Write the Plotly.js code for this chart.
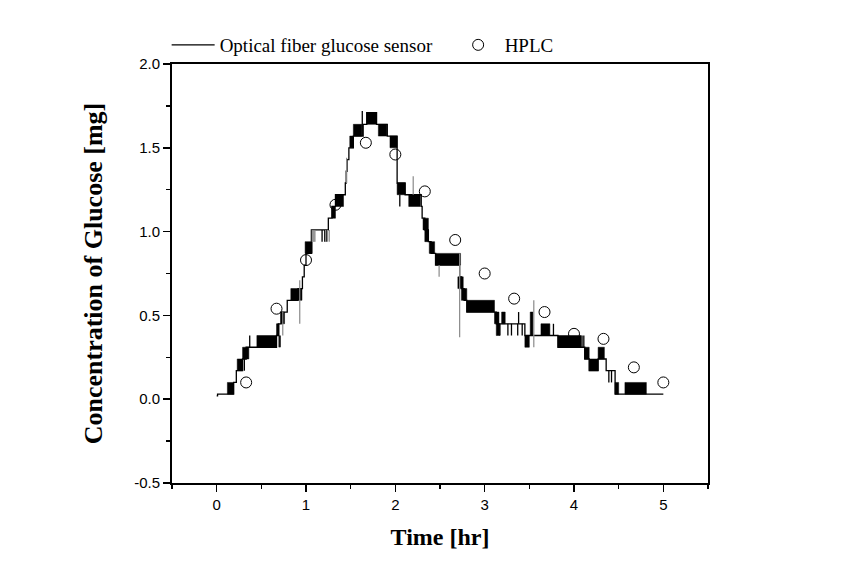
<!DOCTYPE html>
<html>
<head>
<meta charset="utf-8">
<script src="https://cdn.plot.ly/plotly-3.0.1.min.js"></script>
<style>html,body{margin:0;padding:0;background:#fff;}#chart{width:846px;height:581px;}</style>
</head>
<body>
<div id="chart"></div>
<script>
// ---- Optical fiber glucose sensor: main stepped trace (time in hr, glucose in mg)
var stepT = [0.00, 0.01, 0.19, 0.22, 0.29, 0.33, 0.67, 0.69, 0.72, 0.79, 0.91, 0.96, 0.98, 1.00, 1.06, 1.25, 1.29, 1.33, 1.44, 1.45, 1.46, 1.48, 1.53, 1.64, 1.68, 1.79, 1.91, 2.02, 2.11, 2.29, 2.30, 2.33, 2.37, 2.40, 2.45, 2.72, 2.74, 2.77, 2.80, 3.13, 3.45, 3.82, 4.08, 4.12, 4.17, 4.27, 4.36, 4.46, 5.00];
var stepV = [0.02, 0.03, 0.10, 0.17, 0.24, 0.31, 0.38, 0.45, 0.52, 0.59, 0.66, 0.73, 0.80, 0.87, 1.01, 1.08, 1.15, 1.22, 1.29, 1.36, 1.43, 1.50, 1.57, 1.64, 1.71, 1.64, 1.57, 1.29, 1.22, 1.15, 1.08, 1.01, 0.94, 0.87, 0.80, 0.73, 0.66, 0.59, 0.52, 0.45, 0.38, 0.31, 0.31, 0.24, 0.17, 0.24, 0.17, 0.03, 0.03];

// ---- intervals where the sensor toggles rapidly between two adjacent levels
var bandStart = [0.12, 0.23, 0.29, 0.45, 0.67, 0.72, 0.83, 0.99, 1.29, 1.33, 1.49, 1.53, 1.68, 1.81, 1.94, 2.02, 2.15, 2.31, 2.33, 2.38, 2.455, 2.70, 2.74, 2.80, 3.11, 3.13, 3.19, 3.45, 3.51, 3.63, 3.82, 4.12, 4.17, 4.27, 4.46, 4.57];
var bandEnd   = [0.19, 0.29, 0.36, 0.67, 0.70, 0.76, 0.955, 1.07, 1.33, 1.42, 1.53, 1.625, 1.785, 1.905, 2.02, 2.11, 2.28, 2.37, 2.37, 2.44, 2.73, 2.76, 2.80, 3.11, 3.16, 3.17, 3.23, 3.50, 3.54, 3.73, 4.08, 4.17, 4.27, 4.34, 4.50, 4.81];
var bandLow   = [0.03, 0.17, 0.24, 0.31, 0.38, 0.45, 0.59, 0.87, 1.08, 1.15, 1.50, 1.57, 1.64, 1.57, 1.50, 1.22, 1.15, 1.01, 0.94, 0.87, 0.80, 0.66, 0.59, 0.52, 0.45, 0.38, 0.45, 0.31, 0.38, 0.38, 0.31, 0.24, 0.17, 0.24, 0.03, 0.03];
var bandHigh  = [0.10, 0.24, 0.31, 0.38, 0.45, 0.52, 0.66, 0.94, 1.15, 1.22, 1.57, 1.64, 1.71, 1.64, 1.57, 1.29, 1.22, 1.08, 1.01, 0.94, 0.87, 0.73, 0.66, 0.59, 0.52, 0.45, 0.52, 0.38, 0.52, 0.45, 0.38, 0.31, 0.24, 0.31, 0.10, 0.10];

// ---- single-sample jumps (black)
var jumpT    = [0.31, 0.37, 0.70, 0.71, 1.18, 1.21, 1.23, 1.63, 2.05, 3.17, 3.26, 3.30, 3.37, 3.38, 3.42, 3.77, 4.09, 4.11, 4.39, 4.42];
var jumpLow  = [0.17, 0.31, 0.31, 0.31, 0.94, 0.94, 0.94, 1.57, 1.15, 0.38, 0.38, 0.38, 0.38, 0.45, 0.38, 0.38, 0.31, 0.31, 0.10, 0.10];
var jumpHigh = [0.24, 0.38, 0.38, 0.38, 1.01, 1.01, 1.01, 1.72, 1.22, 0.45, 0.45, 0.45, 0.45, 0.52, 0.45, 0.45, 0.38, 0.38, 0.17, 0.17];

// ---- noise spikes (grey)
var spikeT    = [0.74, 0.93, 1.07, 1.08, 1.09, 1.10, 1.22, 1.24, 1.26, 1.455, 2.20, 2.49, 2.72, 3.55];
var spikeLow  = [0.38, 0.45, 0.94, 0.94, 0.94, 0.94, 0.94, 0.94, 0.94, 1.29, 1.22, 0.73, 0.37, 0.31];
var spikeHigh = [0.52, 0.71, 1.01, 1.01, 1.01, 1.01, 1.01, 1.01, 1.01, 1.44, 1.33, 0.80, 0.87, 0.59];

// ---- HPLC reference measurements
var hplcT = [0.33, 0.67, 1.00, 1.33, 1.67, 2.00, 2.33, 2.67, 3.00, 3.33, 3.67, 4.00, 4.33, 4.67, 5.00];
var hplcV = [0.10, 0.54, 0.83, 1.16, 1.53, 1.46, 1.24, 0.95, 0.75, 0.60, 0.52, 0.39, 0.36, 0.19, 0.10];

// ---- tick labels
var xTickVals = [0, 1, 2, 3, 4, 5];
var xTickText = ['0', '1', '2', '3', '4', '5'];
var yTickVals = [-0.5, 0.0, 0.5, 1.0, 1.5, 2.0];
var yTickText = ['-0.5', '0.0', '0.5', '1.0', '1.5', '2.0'];

// build helper geometries from the data arrays
function rects(t0, t1, lo, hi) {
  var x = [], y = [];
  for (var i = 0; i < t0.length; i++) {
    x.push(t0[i], t1[i], t1[i], t0[i], t0[i], null);
    y.push(lo[i], lo[i], hi[i], hi[i], lo[i], null);
  }
  return {x: x, y: y};
}
function verticals(t, lo, hi) {
  var x = [], y = [];
  for (var i = 0; i < t.length; i++) {
    x.push(t[i], t[i], null);
    y.push(lo[i], hi[i], null);
  }
  return {x: x, y: y};
}
var bands = rects(bandStart, bandEnd, bandLow, bandHigh);
var jumps = verticals(jumpT, jumpLow, jumpHigh);
var spikes = verticals(spikeT, spikeLow, spikeHigh);

var traces = [
  {x: stepT, y: stepV, type: 'scatter', mode: 'lines', line: {shape: 'hv', color: '#000', width: 1.3},
   name: 'Optical fiber glucose sensor', showlegend: true},
  {x: bands.x, y: bands.y, type: 'scatter', mode: 'lines', fill: 'toself', fillcolor: '#000',
   line: {color: '#000', width: 0.5}, showlegend: false, hoverinfo: 'skip'},
  {x: jumps.x, y: jumps.y, type: 'scatter', mode: 'lines', line: {color: '#000', width: 1.3},
   showlegend: false, hoverinfo: 'skip'},
  {x: spikes.x, y: spikes.y, type: 'scatter', mode: 'lines', line: {color: '#8a8a8a', width: 1.2},
   showlegend: false, hoverinfo: 'skip'},
  {x: hplcT, y: hplcV, type: 'scatter', mode: 'markers', name: 'HPLC',
   marker: {symbol: 'circle-open', size: 11, color: '#000', line: {width: 1, color: '#000'}},
   cliponaxis: false}
];

var axisCommon = {
  showline: true, linecolor: '#000', linewidth: 2, mirror: true,
  ticks: 'outside', ticklen: 7, tickwidth: 1.5, tickcolor: '#000',
  showgrid: false, zeroline: false,
  tickfont: {family: 'Liberation Sans, Arial, sans-serif', size: 15, color: '#000'}
};

var layout = {
  width: 846, height: 581,
  paper_bgcolor: '#fff', plot_bgcolor: '#fff',
  margin: {l: 172, r: 138, t: 64, b: 98},
  showlegend: true,
  legend: {orientation: 'h', x: -0.01, xanchor: 'left', y: 1.0, yanchor: 'bottom',
           bgcolor: 'rgba(0,0,0,0)', borderwidth: 0, itemwidth: 43,
           font: {family: 'Liberation Serif, Times New Roman, serif', size: 19, color: '#000'},
           entrywidth: 227, entrywidthmode: 'pixels'},
  xaxis: Object.assign({}, axisCommon, {
    range: [-0.5, 5.5], tickmode: 'array', tickvals: xTickVals, ticktext: xTickText,
    minor: {dtick: 0.5, tick0: 0, ticks: 'outside', ticklen: 4, tickwidth: 1.5, tickcolor: '#000', showgrid: false},
    title: {text: 'Time [hr]', standoff: 16,
            font: {family: 'Liberation Serif, Times New Roman, serif', size: 24, color: '#000', weight: 'bold'}}
  }),
  yaxis: Object.assign({}, axisCommon, {
    range: [-0.5, 2.0], tickmode: 'array', tickvals: yTickVals, ticktext: yTickText,
    minor: {dtick: 0.25, tick0: 0, ticks: 'outside', ticklen: 4, tickwidth: 1.5, tickcolor: '#000', showgrid: false},
    title: {text: 'Concentration of Glucose [mg]', standoff: 24,
            font: {family: 'Liberation Serif, Times New Roman, serif', size: 26, color: '#000', weight: 'bold'}}
  })
};

Plotly.newPlot('chart', traces, layout, {displayModeBar: false, staticPlot: true});
</script>
</body>
</html>
